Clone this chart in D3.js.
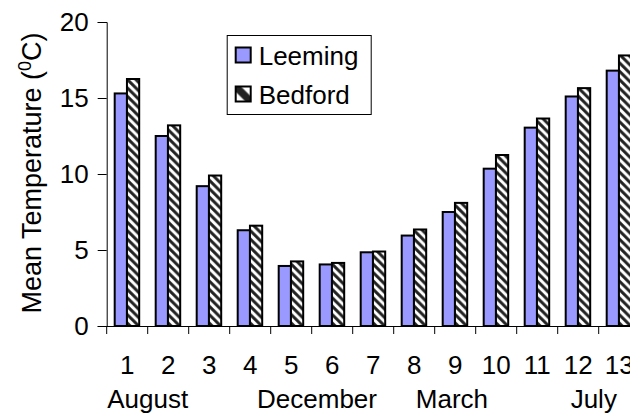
<!DOCTYPE html>
<html>
<head>
<meta charset="utf-8">
<script src="https://cdnjs.cloudflare.com/ajax/libs/d3/7.8.5/d3.min.js"></script>
<style>
  body { margin: 0; background: #fff; }
  text { font-family: "Liberation Sans", Arial, sans-serif; fill: #000; }
</style>
</head>
<body>
<svg id="chart" width="630" height="414"></svg>
<script>
// data
var categories = ["1","2","3","4","5","6","7","8","9","10","11","12","13"];
var leeming = [15.3, 12.5, 9.2, 6.3, 3.95, 4.05, 4.85, 5.95, 7.5, 10.35, 13.05, 15.1, 16.8];
var bedford = [16.25, 13.2, 9.9, 6.6, 4.25, 4.15, 4.9, 6.35, 8.1, 11.25, 13.65, 15.65, 17.8];
var seriesNames = ["Leeming", "Bedford"];
var months = ["August", "December", "March", "July"];
var yTicks = [0, 5, 10, 15, 20];

var svg = d3.select("#chart");
var plotLeft = 106.7, plotTop = 22, plotBottom = 326, step = 41;
var fontSize = "26px";

var x = d3.scaleBand().domain(categories)
  .range([plotLeft, plotLeft + step * categories.length]).padding(0);
var xs = d3.scaleBand().domain(seriesNames).range([8, 32.5]).padding(0);
var y = d3.scaleLinear().domain([0, 20]).range([plotBottom, plotTop]);

// hatch pattern for Bedford
var defs = svg.append("defs");
var pat = defs.append("pattern")
  .attr("id", "hatch")
  .attr("patternUnits", "userSpaceOnUse")
  .attr("width", 8.4).attr("height", 8.4);
pat.append("rect").attr("width", 8.4).attr("height", 8.4).attr("fill", "#fff");
pat.append("path")
  .attr("d", "M-2,-2 L10.4,10.4 M-2,6.4 L2,10.4 M6.4,-2 L10.4,2")
  .attr("stroke", "#222").attr("stroke-width", 3);

// the legend swatch shows a single broad stripe
var lpat = defs.append("pattern")
  .attr("id", "hatchKey")
  .attr("patternContentUnits", "objectBoundingBox")
  .attr("width", 1).attr("height", 1);
lpat.append("rect").attr("width", 1).attr("height", 1).attr("fill", "#fff");
lpat.append("path")
  .attr("d", "M0,0 L0.35,0 L1,0.65 L1,1 L0.65,1 L0,0.35 Z")
  .attr("fill", "#222");

var fills = { Leeming: "#9999ff", Bedford: "url(#hatch)" };
var keyFills = { Leeming: "#9999ff", Bedford: "url(#hatchKey)" };

var rows = categories.map(function(c, i) {
  return { cat: c, values: [
    { name: "Leeming", v: leeming[i] },
    { name: "Bedford", v: bedford[i] }
  ]};
});

// bars
var groups = svg.append("g").selectAll("g").data(rows).enter().append("g")
  .attr("transform", function(d) { return "translate(" + x(d.cat) + ",0)"; });
groups.selectAll("rect").data(function(d) { return d.values; }).enter().append("rect")
  .attr("x", function(d) { return xs(d.name); })
  .attr("y", function(d) { return y(d.v); })
  .attr("width", xs.bandwidth())
  .attr("height", function(d) { return plotBottom - y(d.v); })
  .attr("fill", function(d) { return fills[d.name]; })
  .attr("stroke", "#000").attr("stroke-width", 2);

// y axis
var yAxis = svg.append("g").attr("transform", "translate(" + plotLeft + ",0)")
  .call(d3.axisLeft(y).tickValues(yTicks).tickSize(9).tickPadding(9));
yAxis.select(".domain").attr("stroke", "#000");
yAxis.selectAll("text").style("font-size", fontSize);

// x axis
var xAxis = svg.append("g").attr("transform", "translate(0," + plotBottom + ")")
  .call(d3.axisBottom(x).tickSize(0).tickPadding(30));
xAxis.select(".domain").attr("d", "M" + plotLeft + ",0.5H" + (plotLeft + step * categories.length));
xAxis.selectAll("text").style("font-size", fontSize);
xAxis.selectAll(".boundary").data(categories.concat([""])).enter().append("line")
  .attr("class", "boundary")
  .attr("x1", function(d, i) { return plotLeft + i * step; })
  .attr("x2", function(d, i) { return plotLeft + i * step; })
  .attr("y1", 0).attr("y2", 8).attr("stroke", "#000");

// month labels, placed at fractional category positions
var monthAt = [1.0, 5.13, 8.42, 11.88];
svg.append("g").selectAll("text").data(months).enter().append("text")
  .attr("x", function(d, i) { return plotLeft + monthAt[i] * step; })
  .attr("y", 408)
  .attr("text-anchor", "middle")
  .style("font-size", fontSize)
  .text(function(d) { return d; });

// y axis title
var title = svg.append("text")
  .attr("transform", "translate(41,173) rotate(-90)")
  .attr("text-anchor", "middle")
  .style("font-size", "27px");
title.append("tspan").text("Mean Temperature (");
title.append("tspan").attr("dy", -10).style("font-size", "18px").text("0");
title.append("tspan").attr("dy", 10).text("C)");

// legend
var legend = svg.append("g").attr("transform", "translate(226.7,35)");
legend.append("rect").attr("x", 0.5).attr("y", 0.5).attr("width", 144).attr("height", 79)
  .attr("fill", "#fff").attr("stroke", "#000").attr("stroke-width", 1);
var items = legend.selectAll("g.item").data(seriesNames).enter().append("g")
  .attr("class", "item")
  .attr("transform", function(d, i) { return "translate(9," + (12.5 + i * 39) + ")"; });
items.append("rect").attr("width", 15).attr("height", 15)
  .attr("fill", function(d) { return keyFills[d]; })
  .attr("stroke", "#000").attr("stroke-width", 2);
items.append("text").attr("x", 23).attr("y", 17.5)
  .style("font-size", fontSize)
  .text(function(d) { return d; });
</script>
</body>
</html>
